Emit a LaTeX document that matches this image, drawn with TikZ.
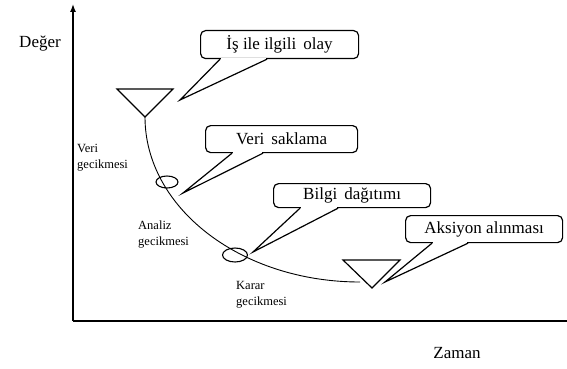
\documentclass[tikz,border=0pt]{standalone}
\usepackage{fontspec}
\setmainfont{Liberation Serif}
\usetikzlibrary{shapes.geometric,arrows.meta,calc}
\begin{document}
\begin{tikzpicture}[x=1pt,y=-1pt,
  big/.style={font=\fontsize{17}{20}\selectfont},
  small/.style={font=\fontsize{12.5}{16}\selectfont, align=left, anchor=west, inner sep=0pt},
  callout/.style={draw, line width=1.2pt, rounded corners=5pt, fill=white, inner sep=0pt, anchor=north west, big},
  pointer/.style={line width=1.2pt, line join=miter},
  axis/.style={line width=1.4pt},
  marker/.style={draw, ellipse, line width=1.1pt, inner sep=0pt},
  tri/.style={line width=1.2pt, line join=miter}]
\useasboundingbox (0,0) rectangle (567,369);

% axes
\coordinate (O) at (73,321);
\coordinate (Xend) at (567,321);
\coordinate (Yend) at (73,4);
\draw[axis] (O) -- (Xend);
\draw[axis, -{Latex[length=8pt,width=6pt]}] (O) -- (Yend);
\node[big] (ylab) at (40,44) {Değer};
\node[big] (xlab) at (457,353) {Zaman};

% triangles
\coordinate (t1l) at (117,89); \coordinate (t1r) at (173,89); \coordinate (t1a) at (145,117);
\coordinate (t2l) at (343,260); \coordinate (t2r) at (400,260); \coordinate (t2a) at (372,288);
\coordinate (cend) at (360,282);

% curve
\draw[line width=0.9pt] (t1a) .. controls (145,208) and (241,282) .. (cend);

\draw[tri] (t1l) -- (t1r) -- (t1a) -- cycle;
\draw[tri] (t2l) -- (t2r) -- (t2a) -- cycle;

% markers
\node[marker, minimum width=22pt, minimum height=12pt] (e1) at (167,182) {};
\node[marker, minimum width=25pt, minimum height=14pt] (e2) at (235,255) {};

% labels
\node[small] (l1) at (77,158) {Veri\\gecikmesi};
\node[small] (l2) at (138,235) {Analiz\\gecikmesi};
\node[small] (l3) at (236,295) {Karar\\gecikmesi};

% callouts
\node[callout, minimum width=158pt, minimum height=28pt] (c1) at (200,30) {İş ile ilgili\, olay};
\node[callout, minimum width=152pt, minimum height=27pt] (c2) at (205,125) {Veri\, saklama};
\node[callout, minimum width=157pt, minimum height=24pt] (c3) at (273,183) {Bilgi\, dağıtımı};
\node[callout, minimum width=157pt, minimum height=27pt] (c4) at (405,215) {Aksiyon alınması};

\coordinate (p1) at (180,100);
\coordinate (p2) at (183,193);
\coordinate (p3) at (253,252);
\coordinate (p4) at (385,282);

\foreach \c/\p/\a/\b in {c1/p1/20/67, c2/p2/27/58, c3/p3/27/65, c4/p4/27/63}{
  \coordinate (\c a) at ($(\c.south west)+(\a,0)$);
  \coordinate (\c b) at ($(\c.south west)+(\b,0)$);
  \fill[white] ($(\c a)+(0.7,-0.8)$) rectangle ($(\c b)+(-0.7,0.8)$);
  \draw[pointer] (\c a) -- (\p) -- (\c b);
}
\end{tikzpicture}
\end{document}
